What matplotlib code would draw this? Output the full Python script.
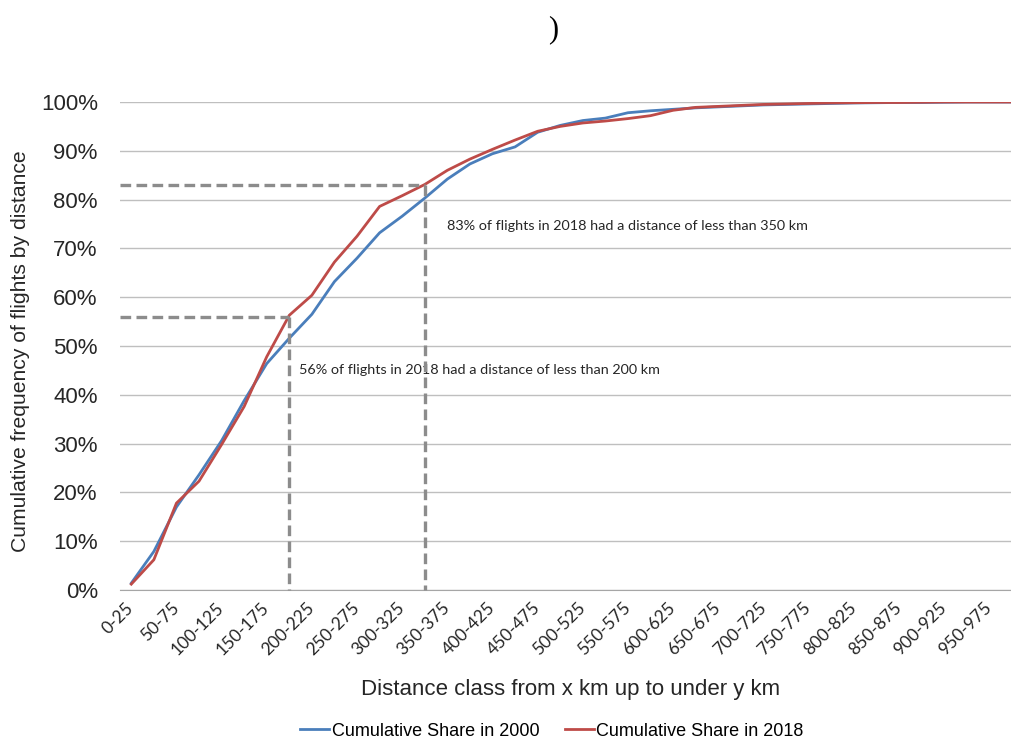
import numpy as np
import matplotlib.pyplot as plt

categories = [f"{i * 25}-{(i + 1) * 25}" for i in range(40)]

share_2000 = [1.4, 7.9, 17.0, 23.6, 30.6, 38.8, 46.4, 51.6, 56.5, 63.2,
              68.0, 73.2, 76.6, 80.3, 84.2, 87.3, 89.4, 90.8, 93.8, 95.2,
              96.2, 96.7, 97.8, 98.2, 98.5, 98.8, 99.0, 99.2, 99.4, 99.5,
              99.6, 99.7, 99.8, 99.85, 99.9, 99.9, 99.95, 100, 100, 100]
share_2018 = [1.2, 6.2, 17.8, 22.3, 29.8, 37.6, 47.8, 56.3, 60.4, 67.2,
              72.5, 78.6, 80.8, 83.1, 86.0, 88.3, 90.3, 92.2, 94.0, 95.0,
              95.7, 96.1, 96.6, 97.2, 98.3, 98.9, 99.1, 99.3, 99.5, 99.6,
              99.7, 99.8, 99.85, 99.9, 99.9, 99.95, 100, 100, 100, 100]

# reference markers: (category index, share in 2018)
mark_200 = (7, 56)
mark_350 = (13, 83)
note_200 = "56% of flights in 2018 had a distance of less than 200 km"
note_350 = "83% of flights in 2018 had a distance of less than 350 km"

W, H = 1012, 742
fig = plt.figure(figsize=(W / 100, H / 100), dpi=100)
ax = fig.add_axes([120 / W, 1 - 590 / H, 903 / W, 488 / H])

x = np.arange(len(categories))
ax.plot(x, share_2000, color='#4a7ebb', lw=2.0, label='Cumulative Share in 2000', zorder=3)
ax.plot(x, share_2018, color='#be4b48', lw=2.0, label='Cumulative Share in 2018', zorder=3)

dash = dict(color='#8c8c8c', lw=2.4, ls=(0, (3.2, 1.6)), zorder=4, clip_on=False)
for xi, yi in [mark_200, mark_350]:
    ax.plot([-0.5, xi], [yi, yi], **dash)
    ax.plot([xi, xi], [yi, 0], **dash)

ax.text(7.45, 45, note_200, family='Lato', fontsize=10.4, color='#262626', va='center')
ax.text(14.0, 74.6, note_350, family='Lato', fontsize=10.4, color='#262626', va='center')

ax.set_xlim(-0.5, len(categories) - 0.5)
ax.set_ylim(0, 100)
ax.set_yticks(np.arange(0, 101, 10))
ax.set_yticklabels([f"{v}%" for v in range(0, 101, 10)], family='Liberation Sans',
                   fontsize=16, color='#262626')
ax.set_xticks(x[::2])
ax.set_xticklabels(categories[::2], rotation=45, ha='right', va='center',
                   rotation_mode='anchor', family='Lato', fontsize=12.5, color='#262626')
ax.tick_params(axis='both', length=0)
ax.tick_params(axis='y', pad=16)
ax.tick_params(axis='x', pad=11)

ax.grid(axis='y', color='#bfbfbf', lw=1)
ax.set_axisbelow(True)
for side in ['top', 'right', 'left']:
    ax.spines[side].set_visible(False)
ax.spines['bottom'].set_color('#a6a6a6')

ax.set_ylabel('Cumulative frequency of flights by distance', family='Liberation Sans',
              fontsize=15.2, color='#262626')
ax.yaxis.set_label_coords(-90 / 903, 0.49)
fig.text(571 / W, 1 - 690 / H, 'Distance class from x km up to under y km',
         family='Liberation Sans', fontsize=16, color='#262626', ha='center', va='center')

fig.legend(loc='center', bbox_to_anchor=(552 / W, 1 - 731 / H), ncol=2, frameon=False,
           prop={'family': 'Liberation Sans', 'size': 13}, handlelength=1.6,
           handletextpad=0.15, columnspacing=1.4)

fig.text(553 / W, 1 - 30 / H, ')', family='Liberation Serif', fontsize=22,
         ha='center', va='center')

fig.savefig('out.png', dpi=100)
